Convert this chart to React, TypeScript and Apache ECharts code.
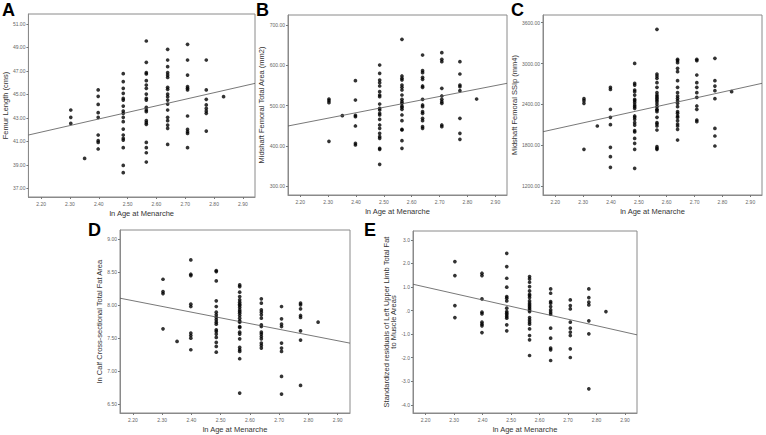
import React, { useEffect, useRef } from "react";
import * as echarts from "echarts";

const X_LEVELS = [2.303, 2.351, 2.398, 2.485, 2.565, 2.639, 2.708, 2.773, 2.833];
const X_TICKS = [2.2, 2.3, 2.4, 2.5, 2.6, 2.7, 2.8, 2.9];

const A_Y = [
  [43.67, 43.05, 42.53],
  [39.55],
  [45.38, 44.84, 44.15, 43.44, 43.05, 41.54, 41.06, 40.91, 40.35],
  [46.77, 46.09, 45.52, 45.09, 44.66, 44.52, 44.01, 43.58, 43.39, 43.05, 42.68, 42.05, 41.54, 41.26, 41.11, 40.46, 38.95, 38.33],
  [49.55, 47.73, 46.85, 46.74, 46.17, 45.8, 45.52, 45.03, 44.66, 44.52, 43.9, 43.67, 43.53, 42.76, 42.59, 42.45, 40.91, 40.46, 40.03, 39.24],
  [48.84, 47.93, 47.36, 46.85, 46.65, 46.45, 45.6, 45.43, 45.03, 44.81, 44.52, 44.18, 43.67, 43.05, 42.76, 42.39, 42.11, 40.74],
  [49.27, 47.93, 46.65, 45.66, 45.52, 45.38, 43.16, 42.02, 41.82, 41.68, 40.46],
  [47.93, 45.38, 44.58, 44.1, 43.81, 43.58, 43.39, 41.88],
  [44.81],
];
const B_Y = [
  [516.5, 512.4, 507.4, 411.6],
  [475.2],
  [562, 514, 476, 472.7, 449.6, 406.6, 402.5],
  [600.8, 580.2, 563.6, 557, 548.8, 534.7, 526.4, 522.3, 504.1, 493.4, 489.3, 481, 476.9, 466.1, 452.1, 443.8, 431.4, 423.1, 419, 394.2, 391.7, 354.5],
  [664.5, 573.6, 567.8, 563.6, 551.2, 545.5, 538.8, 526.4, 515.7, 509.9, 505.8, 499.2, 495.9, 490.9, 476.9, 462.8, 441.3, 439.7, 413.2, 394.2],
  [625.6, 586.8, 581.8, 570.2, 565.3, 548.8, 545.5, 515.7, 501.7, 497.5, 485.1, 481, 468.6, 462.8, 447.9, 443.8],
  [631.4, 614.9, 609.1, 543, 524, 515.7, 509.9, 505.8, 452.1, 447.9],
  [609.1, 578.5, 551.2, 547.1, 537.2, 468.6, 431.4, 416.5],
  [516.5],
];
const C_Y = [
  [2483, 2454, 2415, 1739],
  [2082],
  [2650, 2620, 2327, 2209, 2101, 1768, 1631, 1474],
  [3002, 2709, 2684, 2611, 2586, 2537, 2474, 2454, 2425, 2390, 2366, 2341, 2229, 2209, 2180, 2131, 2096, 2013, 1994, 1900, 1827, 1739, 1460],
  [3502, 2846, 2816, 2782, 2718, 2650, 2571, 2537, 2513, 2488, 2464, 2439, 2405, 2366, 2327, 2317, 2292, 2209, 2131, 2111, 2082, 2023, 1778, 1754, 1739],
  [3061, 3042, 3012, 2929, 2880, 2748, 2650, 2571, 2522, 2488, 2454, 2415, 2366, 2292, 2268, 2229, 2209, 2160, 2111, 2082, 2033, 1876],
  [3061, 3042, 2831, 2718, 2650, 2571, 2503, 2376, 2327, 2170, 2145],
  [3076, 2748, 2669, 2601, 2483, 2047, 1935, 1788],
  [2586],
];
const D_Y = [
  [8.395, 8.209, 8.178, 7.644],
  [7.453],
  [8.688, 8.471, 8.451, 8.017, 7.982, 7.579, 7.543, 7.503, 7.327],
  [8.526, 8.511, 8.37, 8.068, 7.982, 7.896, 7.856, 7.816, 7.78, 7.745, 7.715, 7.629, 7.604, 7.564, 7.513, 7.438, 7.377, 7.291],
  [8.309, 8.284, 8.199, 8.133, 8.083, 8.047, 8.017, 7.997, 7.967, 7.931, 7.906, 7.881, 7.846, 7.805, 7.765, 7.745, 7.679, 7.664, 7.594, 7.564, 7.493, 7.362, 7.327, 7.301, 7.191, 6.671],
  [8.098, 8.032, 7.931, 7.896, 7.856, 7.805, 7.705, 7.679, 7.594, 7.564, 7.528, 7.493, 7.428, 7.392, 7.352],
  [7.982, 7.795, 7.715, 7.679, 7.428, 7.352, 7.301, 6.923, 6.656],
  [8.032, 8.007, 7.947, 7.846, 7.816, 7.614, 7.473, 6.787],
  [7.745],
];
const E_Y = [
  [2.081, 1.487, 0.214, -0.296],
  [],
  [1.586, 1.487, 0.497, -0.069, -0.14, -0.494, -0.578, -0.649, -0.932],
  [2.434, 1.868, 1.373, 0.992, 0.596, 0.525, 0.412, 0.1, -0.041, -0.112, -0.182, -0.253, -0.324, -0.607, -0.861],
  [1.444, 1.345, 1.204, 1.02, 0.836, 0.694, 0.638, 0.553, 0.412, 0.313, 0.242, 0.171, 0.1, 0.029, -0.041, -0.296, -0.395, -0.494, -0.578, -0.777, -1.059, -1.243, -1.908],
  [0.921, 0.737, 0.383, 0.313, 0.171, 0.029, -0.069, -0.154, -0.748, -1.172, -1.597, -1.668, -2.12],
  [0.454, 0.214, 0.072, -0.494, -0.748, -0.918, -1.059, -1.625, -1.993],
  [0.921, 0.553, 0.355, 0.242, -0.437, -0.989, -3.322],
  [-0.041],
];

const LINE_A = [[2.156, 41.54], [2.942, 45.94]];
const LINE_B = [[2.156, 449.6], [2.942, 555.4]];
const LINE_C = [[2.156, 1998], [2.942, 2709]];
const LINE_D = [[2.156, 8.108], [2.942, 7.427]];
const LINE_E = [[2.156, 1.119], [2.942, -1.031]];

const A_TICKS = [37, 39, 41, 43, 45, 47, 49, 51];
const B_TICKS = [300, 400, 500, 600, 700];
const C_TICKS = [1200, 1800, 2400, 3000, 3600];
const D_TICKS = [6.5, 7, 7.5, 8, 8.5, 9];
const E_TICKS = [-4, -3, -2, -1, 0, 1, 2, 3];

const FONT = "'Liberation Sans', Arial, sans-serif";
const X_NAME = "ln Age at Menarche";

const panels = [
  { letter: "A", ys: A_Y, line: LINE_A, ticks: A_TICKS, yMin: 36.26, yMax: 51.85, dec: 2, name: "Femur Length (cms)",
    grid: { left: 26, top: 14, width: 229, height: 183 }, gapY: 15, letterPos: [2, 1] },
  { letter: "B", ys: B_Y, line: LINE_B, ticks: B_TICKS, yMin: 278.5, yMax: 724.8, dec: 2, name: "Midshaft Femoral Total Area (mm2)",
    grid: { left: 288, top: 15, width: 219, height: 180 }, gapY: 20, letterPos: [256, 1] },
  { letter: "C", ys: C_Y, line: LINE_C, ticks: C_TICKS, yMin: 1068, yMax: 3713, dec: 2, name: "Midshaft Femoral SSIp (mm4)",
    grid: { left: 543, top: 15, width: 219, height: 180 }, gapY: 21, letterPos: [511, 1] },
  { letter: "D", ys: D_Y, line: LINE_D, ticks: D_TICKS, yMin: 6.369, yMax: 9.141, dec: 2, name: "ln Calf Cross-sectional Total Fat Area",
    grid: { left: 120, top: 230, width: 230, height: 183 }, gapY: 11, letterPos: [88, 221] },
  { letter: "E", ys: E_Y, line: LINE_E, ticks: E_TICKS, yMin: -4.35, yMax: 3.38, dec: 1,
    name: "Standardized residuals of Left Upper Limb Total Fat\nto Muscle Areas",
    grid: { left: 413, top: 231, width: 224, height: 182 }, gapY: 9, letterPos: [364, 221] },
];

function fmt(v: number, dec: number) {
  const s = v.toFixed(dec);
  if (dec === 1 && (s === "0.0" || s === "-0.0")) return ".0";
  return s;
}

export default function App() {
  const ref = useRef<HTMLDivElement>(null);
  useEffect(() => {
    if (!ref.current) return;
    const chart = echarts.init(ref.current, undefined, { renderer: "svg" });
    const grids: any[] = [];
    const xAxes: any[] = [];
    const yAxes: any[] = [];
    const series: any[] = [];
    const graphics: any[] = [];
    panels.forEach((p, i) => {
      grids.push({ ...p.grid, show: true, borderColor: "#8a8a8a", borderWidth: 1, backgroundColor: "transparent" });
      xAxes.push({
        type: "value", gridIndex: i, min: 2.156, max: 2.942,
        name: X_NAME, nameLocation: "middle", nameGap: 12,
        nameTextStyle: { fontFamily: FONT, fontSize: 7.5, color: "#333333" },
        axisLine: { show: true, onZero: false, lineStyle: { color: "#8a8a8a" } },
        axisTick: { show: true, length: 2, customValues: X_TICKS, lineStyle: { color: "#777" } },
        axisLabel: { customValues: X_TICKS, formatter: (v: number) => v.toFixed(2), fontFamily: FONT, fontSize: 5, color: "#666", margin: 4 },
        splitLine: { show: false },
      });
      yAxes.push({
        type: "value", gridIndex: i, min: p.yMin, max: p.yMax,
        name: p.name, nameLocation: "middle", nameRotate: 90, nameGap: p.gapY,
        nameTextStyle: { fontFamily: FONT, fontSize: 7.5, color: "#333333", lineHeight: 7 },
        axisLine: { show: true, onZero: false, lineStyle: { color: "#8a8a8a" } },
        axisTick: { show: true, length: 2, customValues: p.ticks, lineStyle: { color: "#777" } },
        axisLabel: { customValues: p.ticks, formatter: (v: number) => fmt(v, p.dec), fontFamily: FONT, fontSize: 5, color: "#666", margin: 3 },
        splitLine: { show: false },
      });
      const pts: number[][] = [];
      p.ys.forEach((group, gi) => group.forEach((y) => pts.push([X_LEVELS[gi], y])));
      series.push({
        type: "scatter", xAxisIndex: i, yAxisIndex: i, data: pts,
        symbol: "circle", symbolSize: 3.7, itemStyle: { color: "#000" }, silent: true,
      });
      series.push({
        type: "line", xAxisIndex: i, yAxisIndex: i, data: p.line,
        showSymbol: false, lineStyle: { color: "#555", width: 0.8 }, silent: true,
      });
      graphics.push({
        type: "text", left: p.letterPos[0], top: p.letterPos[1],
        style: { text: p.letter, fontFamily: FONT, fontWeight: "bold", fontSize: 18, fill: "#000" },
      });
    });
    chart.setOption({
      animation: false,
      grid: grids,
      xAxis: xAxes,
      yAxis: yAxes,
      series,
      graphic: graphics,
    });
    return () => chart.dispose();
  }, []);
  return (
    <div
      ref={ref}
      style={{ position: "absolute", left: 0, top: 0, width: 766, height: 435, background: "#fff" }}
    />
  );
}
